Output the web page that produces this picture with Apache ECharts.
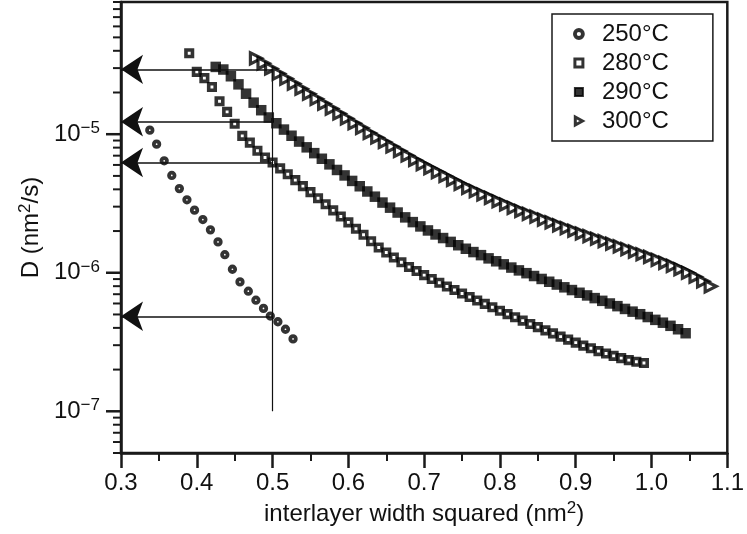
<!DOCTYPE html>
<html>
<head>
<meta charset="utf-8">
<script src="https://cdn.jsdelivr.net/npm/echarts@6/dist/echarts.min.js"></script>
<style>
  html, body { margin: 0; padding: 0; background: #ffffff; }
  #chart { width: 747px; height: 534px; }
</style>
</head>
<body>
<div id="chart"></div>
<script>
// Diffusion coefficient D (nm^2/s) against interlayer width squared (nm^2), one series per temperature.
const seriesNames = ['250°C', '280°C', '290°C', '300°C'];

const x250 = [0.338, 0.347, 0.357, 0.367, 0.377, 0.387, 0.397, 0.408, 0.418, 0.428,
              0.437, 0.447, 0.457, 0.468, 0.478, 0.488, 0.497, 0.507, 0.517, 0.527];
const d250 = [1.07e-5, 8.48e-6, 6.43e-6, 5.04e-6, 4.05e-6, 3.36e-6, 2.83e-6, 2.42e-6, 2.04e-6, 1.67e-6,
              1.35e-6, 1.06e-6, 8.59e-7, 7.36e-7, 6.34e-7, 5.53e-7, 4.87e-7, 4.43e-7, 3.91e-7, 3.33e-7];

const x280 = [0.39, 0.40, 0.41, 0.42, 0.43, 0.44, 0.45, 0.46, 0.47, 0.48,
              0.49, 0.50, 0.51, 0.52, 0.53, 0.54, 0.55, 0.56, 0.57, 0.58,
              0.59, 0.60, 0.61, 0.62, 0.63, 0.64, 0.65, 0.66, 0.67, 0.68,
              0.69, 0.70, 0.71, 0.72, 0.73, 0.74, 0.75, 0.76, 0.77, 0.78,
              0.79, 0.80, 0.81, 0.82, 0.83, 0.84, 0.85, 0.86, 0.87, 0.88,
              0.89, 0.90, 0.91, 0.92, 0.93, 0.94, 0.95, 0.96, 0.97, 0.98, 0.99];
const d280 = [3.84e-5, 2.82e-5, 2.54e-5, 2.19e-5, 1.73e-5, 1.45e-5, 1.19e-5, 9.72e-6, 8.70e-6, 7.59e-6,
              6.79e-6, 6.25e-6, 5.67e-6, 5.14e-6, 4.66e-6, 4.22e-6, 3.82e-6, 3.45e-6, 3.12e-6, 2.82e-6,
              2.55e-6, 2.31e-6, 2.08e-6, 1.88e-6, 1.69e-6, 1.52e-6, 1.40e-6, 1.29e-6, 1.19e-6, 1.10e-6,
              1.03e-6, 9.61e-7, 9.01e-7, 8.46e-7, 7.96e-7, 7.50e-7, 7.08e-7, 6.69e-7, 6.31e-7, 5.96e-7,
              5.63e-7, 5.32e-7, 5.03e-7, 4.77e-7, 4.51e-7, 4.27e-7, 4.05e-7, 3.84e-7, 3.65e-7, 3.46e-7,
              3.29e-7, 3.13e-7, 2.98e-7, 2.85e-7, 2.72e-7, 2.61e-7, 2.51e-7, 2.42e-7, 2.34e-7, 2.28e-7, 2.23e-7];

const x290 = [0.425, 0.435, 0.445, 0.455, 0.465, 0.475, 0.485, 0.495, 0.505, 0.515,
              0.525, 0.535, 0.545, 0.555, 0.565, 0.575, 0.585, 0.595, 0.605, 0.615,
              0.625, 0.635, 0.645, 0.655, 0.665, 0.675, 0.685, 0.695, 0.705, 0.715,
              0.725, 0.735, 0.745, 0.755, 0.765, 0.775, 0.785, 0.795, 0.805, 0.815,
              0.825, 0.835, 0.845, 0.855, 0.865, 0.875, 0.885, 0.895, 0.905, 0.915,
              0.925, 0.935, 0.945, 0.955, 0.965, 0.975, 0.985, 0.995, 1.005, 1.015,
              1.025, 1.035, 1.045];
const d290 = [3.06e-5, 2.93e-5, 2.62e-5, 2.29e-5, 1.96e-5, 1.69e-5, 1.49e-5, 1.32e-5, 1.20e-5, 1.08e-5,
              9.75e-6, 8.85e-6, 8.04e-6, 7.30e-6, 6.65e-6, 6.06e-6, 5.52e-6, 5.04e-6, 4.60e-6, 4.21e-6,
              3.86e-6, 3.54e-6, 3.21e-6, 2.95e-6, 2.72e-6, 2.51e-6, 2.32e-6, 2.16e-6, 2.02e-6, 1.89e-6,
              1.78e-6, 1.67e-6, 1.58e-6, 1.49e-6, 1.41e-6, 1.34e-6, 1.27e-6, 1.21e-6, 1.15e-6, 1.09e-6,
              1.04e-6, 9.93e-7, 9.47e-7, 9.02e-7, 8.61e-7, 8.22e-7, 7.85e-7, 7.50e-7, 7.17e-7, 6.86e-7,
              6.56e-7, 6.27e-7, 6.00e-7, 5.74e-7, 5.48e-7, 5.24e-7, 5.02e-7, 4.79e-7, 4.57e-7, 4.36e-7,
              4.14e-7, 3.91e-7, 3.66e-7];

const x300 = [0.478, 0.488, 0.498, 0.508, 0.518, 0.528, 0.538, 0.548, 0.558, 0.568,
              0.578, 0.588, 0.598, 0.608, 0.618, 0.628, 0.638, 0.648, 0.658, 0.668,
              0.678, 0.688, 0.698, 0.708, 0.718, 0.728, 0.738, 0.748, 0.758, 0.768,
              0.778, 0.788, 0.798, 0.808, 0.818, 0.828, 0.838, 0.848, 0.858, 0.868,
              0.878, 0.888, 0.898, 0.908, 0.918, 0.928, 0.938, 0.948, 0.958, 0.968,
              0.978, 0.988, 0.998, 1.008, 1.018, 1.028, 1.038, 1.048, 1.058, 1.068, 1.078];
const d300 = [3.53e-5, 3.25e-5, 2.98e-5, 2.74e-5, 2.52e-5, 2.32e-5, 2.13e-5, 1.96e-5, 1.80e-5, 1.66e-5,
              1.53e-5, 1.41e-5, 1.30e-5, 1.20e-5, 1.11e-5, 1.02e-5, 9.47e-6, 8.79e-6, 8.15e-6, 7.56e-6,
              7.02e-6, 6.51e-6, 6.08e-6, 5.69e-6, 5.33e-6, 4.99e-6, 4.67e-6, 4.38e-6, 4.10e-6, 3.88e-6,
              3.67e-6, 3.47e-6, 3.28e-6, 3.11e-6, 2.94e-6, 2.79e-6, 2.66e-6, 2.54e-6, 2.42e-6, 2.31e-6,
              2.20e-6, 2.10e-6, 2.01e-6, 1.92e-6, 1.84e-6, 1.76e-6, 1.69e-6, 1.62e-6, 1.55e-6, 1.48e-6,
              1.42e-6, 1.36e-6, 1.30e-6, 1.24e-6, 1.18e-6, 1.12e-6, 1.06e-6, 1.00e-6, 9.36e-7, 8.67e-7, 7.98e-7];

// Read-out of each curve at x = 0.5, carried to the D axis with an arrow
const readoutX = 0.5;
const readoutD = [2.94e-5, 1.23e-5, 6.25e-6, 4.85e-7];
const readoutFloor = 1e-7;

// Axis ranges and tick positions
const xMin = 0.3, xMax = 1.1, xStep = 0.1;
const yMin = 5e-8, yMax = 9e-5;
const yMajorTicks = [1e-7, 1e-6, 1e-5];
const yMinorTicks = [5e-8, 6e-8, 7e-8, 8e-8, 9e-8,
                     2e-7, 3e-7, 4e-7, 5e-7, 6e-7, 7e-7, 8e-7, 9e-7,
                     2e-6, 3e-6, 4e-6, 5e-6, 6e-6, 7e-6, 8e-6, 9e-6,
                     2e-5, 3e-5, 4e-5, 5e-5, 6e-5, 7e-5, 8e-5, 9e-5];

const INK = '#000000';
const FONT = "'Liberation Sans', Arial, Helvetica, sans-serif";

const pairs = (xs, ys) => xs.map((x, i) => [x, ys[i]]);

const supRich = {
  a: { fontSize: 24, lineHeight: 28, fontFamily: FONT, color: '#111' },
  b: { fontSize: 24, lineHeight: 28, fontFamily: FONT, color: '#111' },
  s: { fontSize: 17, lineHeight: 17, verticalAlign: 'top', fontFamily: FONT, color: '#111' }
};

const tickData = yMajorTicks.map(v => [xMin, v, 1]).concat(yMinorTicks.map(v => [xMin, v, 0]));

const chart = echarts.init(document.getElementById('chart'), null, { renderer: 'canvas' });

chart.setOption({
  animation: false,
  backgroundColor: '#ffffff',
  grid: {
    left: 121, right: 16, top: 2, bottom: 81,
    show: true, borderColor: '#1a1a1a', borderWidth: 2.5, backgroundColor: 'transparent'
  },
  legend: {
    orient: 'vertical',
    left: 552, top: 14,
    padding: [8, 44, 8, 21],
    itemWidth: 8, itemHeight: 8, itemGap: 5,
    borderColor: '#1a1a1a', borderWidth: 1.5,
    selectedMode: false,
    textStyle: { fontSize: 24, color: '#111', fontFamily: FONT, padding: [0, 0, 0, 14] },
    data: [
      { name: seriesNames[0], icon: 'circle', itemStyle: { color: '#ffffff', borderColor: INK, borderWidth: 3.8 } },
      { name: seriesNames[1], icon: 'rect', itemStyle: { color: '#ffffff', borderColor: INK, borderWidth: 3 } },
      { name: seriesNames[2], icon: 'rect', itemStyle: { color: INK, borderColor: INK, borderWidth: 2 } },
      { name: seriesNames[3], icon: 'path://M0,0L9,5L0,10Z', itemStyle: { color: '#ffffff', borderColor: INK, borderWidth: 3 } }
    ]
  },
  xAxis: {
    type: 'value',
    min: xMin, max: xMax, interval: xStep,
    name: '{a|interlayer width squared (nm}{s|2}{a|)}',
    nameLocation: 'middle', nameGap: 47,
    nameTextStyle: { rich: supRich },
    axisLine: { lineStyle: { color: '#1a1a1a', width: 2.5 } },
    axisTick: { inside: false, length: 15, lineStyle: { color: '#1a1a1a', width: 2.5 } },
    minorTick: { show: true, splitNumber: 2, length: 8, lineStyle: { color: '#1a1a1a', width: 2 } },
    splitLine: { show: false },
    minorSplitLine: { show: false },
    axisLabel: {
      margin: 18, fontSize: 24, color: '#111', fontFamily: FONT,
      formatter: v => v.toFixed(1)
    }
  },
  yAxis: {
    type: 'log', logBase: 10,
    min: yMin, max: yMax,
    name: '{a|D (nm}{s|2}{a|/s)}',
    nameLocation: 'middle', nameGap: 76,
    nameTextStyle: { rich: supRich },
    axisLine: { lineStyle: { color: '#1a1a1a', width: 2.5 } },
    axisTick: { show: false },
    splitLine: { show: false },
    axisLabel: {
      margin: 21,
      rich: supRich,
      formatter: v => {
        const e = Math.log10(v);
        const r = Math.round(e);
        if (Math.abs(e - r) > 1e-6) return '';
        return '{b|10}{s|\u2212' + (-r) + '}';
      }
    }
  },
  series: [
    {
      name: seriesNames[0], type: 'scatter', data: pairs(x250, d250),
      symbol: 'circle', symbolSize: 5.5,
      itemStyle: { color: '#ffffff', borderColor: INK, borderWidth: 3.8 }, z: 3
    },
    {
      name: seriesNames[1], type: 'scatter', data: pairs(x280, d280),
      symbol: 'rect', symbolSize: 6.5,
      itemStyle: { color: '#ffffff', borderColor: INK, borderWidth: 3.6 }, z: 3
    },
    {
      name: seriesNames[2], type: 'scatter', data: pairs(x290, d290),
      symbol: 'rect', symbolSize: 10.5,
      itemStyle: { color: INK, borderWidth: 0 }, z: 3
    },
    {
      name: seriesNames[3], type: 'scatter', data: pairs(x300, d300),
      symbol: 'triangle', symbolRotate: -90, symbolSize: 11,
      itemStyle: { color: '#ffffff', borderColor: INK, borderWidth: 3.2 }, z: 3
    },
    {
      name: 'readout', type: 'line', data: [], silent: true, z: 4,
      markLine: {
        silent: true, animation: false,
        symbol: ['none', 'none'],
        label: { show: false },
        lineStyle: { color: '#111', width: 1.6, type: 'solid' },
        data: [
          [{ coord: [readoutX, readoutFloor], lineStyle: { width: 1.2 } }, { coord: [readoutX, readoutD[0]] }]
        ].concat(readoutD.map(v => [
          { coord: [readoutX, v] },
          { coord: [xMin, v], symbol: 'arrow', symbolSize: 22, symbolOffset: [0, 0] }
        ]))
      }
    },
    {
      // tick marks of the logarithmic D axis at 1..9 times each power of ten
      name: 'yticks', type: 'custom', data: tickData, silent: true, clip: false, z: 5,
      renderItem: (params, api) => {
        const p = api.coord([api.value(0), api.value(1)]);
        const major = api.value(2) === 1;
        const len = major ? 15 : 8;
        return {
          type: 'line',
          shape: { x1: p[0] - len, y1: p[1], x2: p[0], y2: p[1] },
          style: { stroke: '#1a1a1a', lineWidth: major ? 2.5 : 2 }
        };
      }
    }
  ]
});
</script>
</body>
</html>
